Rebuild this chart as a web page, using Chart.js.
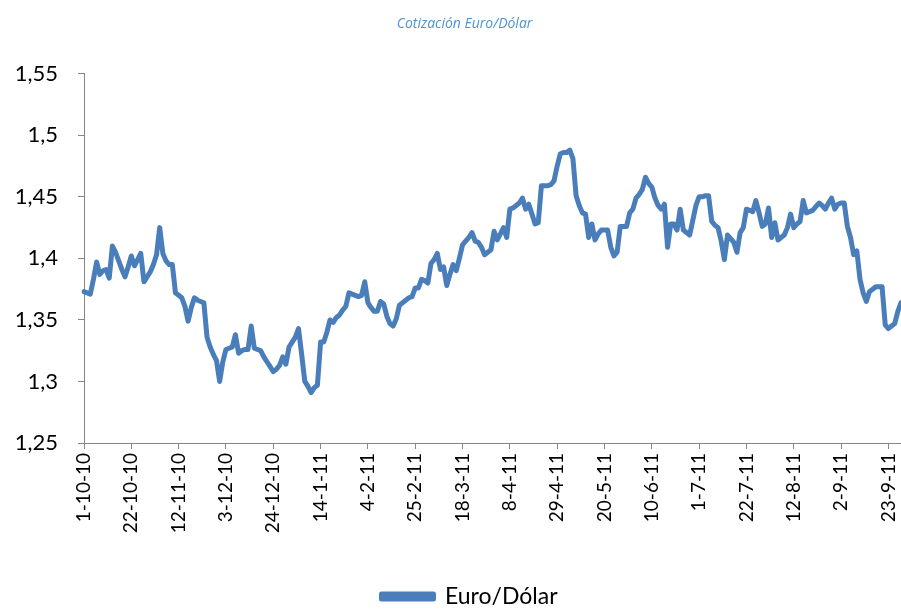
<!DOCTYPE html>
<html>
<head>
<meta charset="utf-8">
<script src="https://cdn.jsdelivr.net/npm/chart.js@4"></script>
<style>
  html, body { margin: 0; padding: 0; background: #fff; }
  #wrap { width: 901px; height: 610px; position: relative; }
</style>
</head>
<body>
<div id="wrap"><canvas id="myChart"></canvas></div>
<script>
// daily (weekday) quotes, 1-10-10 .. 29-9-11
const firstDay = new Date(2010, 9, 1)
const numDays = 260

const euroDolar = [
  1.373, 1.372, 1.371, 1.383, 1.397, 1.387, 1.390, 1.391, 1.384, 1.410,
  1.405, 1.398, 1.391, 1.385, 1.393, 1.402, 1.394, 1.399, 1.404, 1.381,
  1.385, 1.389, 1.395, 1.403, 1.425, 1.404, 1.398, 1.395, 1.395, 1.372,
  1.370, 1.368, 1.361, 1.349, 1.360, 1.368, 1.366, 1.365, 1.364, 1.336,
  1.328, 1.322, 1.317, 1.300, 1.316, 1.326, 1.327, 1.328, 1.338, 1.323,
  1.325, 1.326, 1.326, 1.345, 1.327, 1.326, 1.325, 1.320, 1.316, 1.312,
  1.308, 1.310, 1.313, 1.320, 1.314, 1.328, 1.332, 1.336, 1.343, 1.322,
  1.300, 1.296, 1.291, 1.295, 1.297, 1.332, 1.332, 1.340, 1.350, 1.348,
  1.352, 1.354, 1.358, 1.361, 1.372, 1.371, 1.370, 1.369, 1.370, 1.381,
  1.364, 1.360, 1.357, 1.357, 1.365, 1.363, 1.353, 1.347, 1.345, 1.351,
  1.362, 1.364, 1.366, 1.368, 1.369, 1.376, 1.376, 1.383, 1.382, 1.380,
  1.396, 1.399, 1.404, 1.391, 1.393, 1.378, 1.387, 1.395, 1.390, 1.400,
  1.411, 1.414, 1.417, 1.421, 1.414, 1.413, 1.409, 1.403, 1.405, 1.407,
  1.422, 1.415, 1.420, 1.425, 1.417, 1.440, 1.441, 1.443, 1.445, 1.449,
  1.440, 1.444, 1.436, 1.428, 1.429, 1.459, 1.459, 1.459, 1.460, 1.463,
  1.475, 1.485, 1.486, 1.486, 1.488, 1.481, 1.451, 1.443, 1.437, 1.436,
  1.417, 1.428, 1.415, 1.420, 1.423, 1.423, 1.423, 1.409, 1.402, 1.405,
  1.426, 1.426, 1.426, 1.437, 1.440, 1.449, 1.452, 1.456, 1.466, 1.461,
  1.458, 1.449, 1.443, 1.440, 1.444, 1.409, 1.428, 1.428, 1.423, 1.440,
  1.423, 1.421, 1.419, 1.431, 1.443, 1.450, 1.450, 1.451, 1.451, 1.430,
  1.427, 1.425, 1.414, 1.399, 1.419, 1.416, 1.413, 1.405, 1.421, 1.425,
  1.440, 1.439, 1.438, 1.447, 1.437, 1.426, 1.428, 1.441, 1.417, 1.429,
  1.415, 1.417, 1.419, 1.425, 1.436, 1.425, 1.428, 1.430, 1.447, 1.437,
  1.438, 1.439, 1.442, 1.445, 1.443, 1.440, 1.445, 1.449, 1.440, 1.444,
  1.445, 1.445, 1.426, 1.417, 1.403, 1.406, 1.383, 1.372, 1.365, 1.373,
  1.375, 1.377, 1.377, 1.377, 1.346, 1.343, 1.345, 1.347, 1.357, 1.364,
]

const labelEvery = 15
const yMin = 1.25
const yMax = 1.55
const yStep = 0.05

// weekday labels like 1-10-10
let fechas = []
let d = new Date(firstDay)
while (fechas.length < numDays) {
  let wd = d.getDay()
  if (wd !== 0 && wd !== 6) {
    fechas.push(d.getDate() + '-' + (d.getMonth() + 1) + '-' + String(d.getFullYear()).slice(2))
  }
  d.setDate(d.getDate() + 1)
}

const lineColor = '#4a7ebb'
const axisColor = '#868686'
const font = "Lato, 'Open Sans', sans-serif"

// title and legend sit a bit right of the canvas centre in the original
const shiftBoxes = {
  id: 'shiftBoxes',
  afterLayout(chart) {
    chart.titleBlock.left += 14
    chart.titleBlock.right += 14
    chart.legend.left += 19
    chart.legend.right += 19
    chart.legend.top += 8
    chart.legend.bottom += 8
  },
}

const config = {
  type: 'line',
  data: {
    labels: fechas,
    datasets: [
      {
        label: 'Euro/Dólar',
        data: euroDolar,
        borderColor: lineColor,
        backgroundColor: lineColor,
        borderWidth: 5,
        pointRadius: 0,
        tension: 0,
        borderJoinStyle: 'round',
        borderCapStyle: 'round',
      },
    ],
  },
  options: {
    responsive: true,
    maintainAspectRatio: false,
    animation: false,
    layout: { padding: { left: 0, right: 0, top: 0, bottom: 0 } },
    plugins: {
      title: {
        display: true,
        text: 'Cotización Euro/Dólar',
        color: '#4a95d6',
        font: { family: "'Open Sans', sans-serif", size: 14, style: 'italic', weight: 'normal' },
        padding: { top: 16, bottom: 41 },
      },
      legend: {
        position: 'bottom',
        labels: {
          color: '#000',
          boxWidth: 52,
          boxHeight: 5,
          padding: 1,
          font: { family: font, size: 23 },
        },
      },
      tooltip: { enabled: false },
    },
    scales: {
      x: {
        type: 'category',
        offset: false,
        grid: { drawOnChartArea: false, drawTicks: true, tickLength: 6, color: axisColor },
        border: { color: axisColor, width: 1 },
        ticks: {
          autoSkip: false,
          minRotation: 90,
          maxRotation: 90,
          padding: 4,
          color: '#000',
          font: { family: font, size: 19 },
          callback: function (val, i) {
            return i % labelEvery === 0 ? fechas[i] : null
          },
        },
        afterFit: (scale) => {
          scale.height = 133
          scale.paddingRight = 0
        },
      },
      y: {
        min: yMin,
        max: yMax,
        grid: { drawOnChartArea: false, drawTicks: true, tickLength: 6, color: axisColor },
        border: { color: axisColor, width: 1 },
        ticks: {
          stepSize: yStep,
          padding: 20,
          color: '#000',
          font: { family: font, size: 22 },
          callback: (v) => String(Math.round(v * 100) / 100).replace('.', ','),
        },
        afterFit: (scale) => { scale.width = 84 },
      },
    },
  },
  plugins: [shiftBoxes],
}

var myChart = new Chart(document.getElementById('myChart'), config)
</script>
</body>
</html>
